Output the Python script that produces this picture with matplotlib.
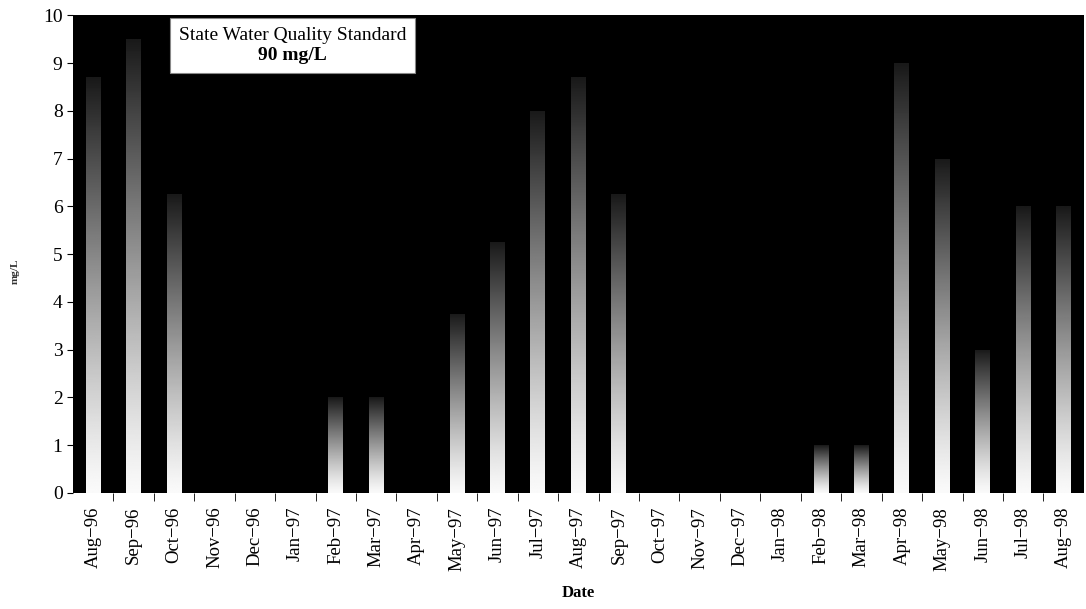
import numpy as np
import matplotlib
matplotlib.use('Agg')
import matplotlib.pyplot as plt

plt.rcParams['font.family'] = ['Liberation Serif', 'DejaVu Serif']

months = ['Aug', 'Sep', 'Oct', 'Nov', 'Dec', 'Jan', 'Feb', 'Mar', 'Apr', 'May', 'Jun', 'Jul',
          'Aug', 'Sep', 'Oct', 'Nov', 'Dec', 'Jan', 'Feb', 'Mar', 'Apr', 'May', 'Jun', 'Jul', 'Aug']
years = ['96', '96', '96', '96', '96', '97', '97', '97', '97', '97', '97', '97',
         '97', '97', '97', '97', '97', '98', '98', '98', '98', '98', '98', '98', '98']
values = [8.7, 9.5, 6.25, 0, 0, 0, 2.0, 2.0, 0, 3.75, 5.25, 8.0,
          8.7, 6.25, 0, 0, 0, 0, 1.0, 1.0, 9.0, 7.0, 3.0, 6.0, 6.0]
labels = [f'{m}\u2212{y}' for m, y in zip(months, years)]

fig = plt.figure(figsize=(10.86, 6.09), dpi=100)
ax = fig.add_axes([0.0672, 0.1905, 0.9308, 0.7845])
ax.set_facecolor('black')

x = np.arange(len(values))
bars = ax.bar(x, values, width=0.37, color='none', edgecolor='none')

# vertical gradient: white at the base, dark at the top of each bar
grad = np.linspace(0, 1, 256).reshape(-1, 1)
shade = 0.98 - 0.88 * grad ** 1.2
for rect, v in zip(bars, values):
    if v <= 0:
        continue
    x0 = rect.get_x()
    w = rect.get_width()
    im = ax.imshow(shade, cmap='gray', vmin=0, vmax=1, origin='lower',
                   extent=[x0, x0 + w, 0, v], aspect='auto', interpolation='bilinear', zorder=2)
    im.set_clip_path(rect)

ax.set_xlim(-0.5, len(values) - 0.5)
ax.set_ylim(0, 10)
ax.set_yticks(range(0, 11))
ax.tick_params(axis='y', labelsize=14, length=4, direction='out')

ax.set_xticks(x)
ax.set_xticklabels(labels, rotation=90, fontsize=13.5)
ax.tick_params(axis='x', which='major', length=0, pad=10)
ax.set_xticks(np.arange(0.5, len(values) - 0.5, 1), minor=True)
ax.tick_params(axis='x', which='minor', length=6, direction='out')

for s in ax.spines.values():
    s.set_visible(False)

ax.set_xlabel('Date', fontsize=12, fontweight='bold', labelpad=10)
fig.text(0.014, 0.555, 'mg/L', rotation=90, fontsize=8, fontweight='bold',
         ha='center', va='center', color='#333333')

# standard annotation box
ax.add_patch(plt.Rectangle((1.9, 8.79), 6.06, 1.15, facecolor='white',
                           edgecolor='#888888', linewidth=0.8, zorder=4))
ax.text(4.93, 9.58, 'State Water Quality Standard', fontsize=14, ha='center', va='center', zorder=5)
ax.text(4.93, 9.15, '90 mg/L', fontsize=14, fontweight='bold', ha='center', va='center', zorder=5)

fig.savefig('out.png', dpi=100)
